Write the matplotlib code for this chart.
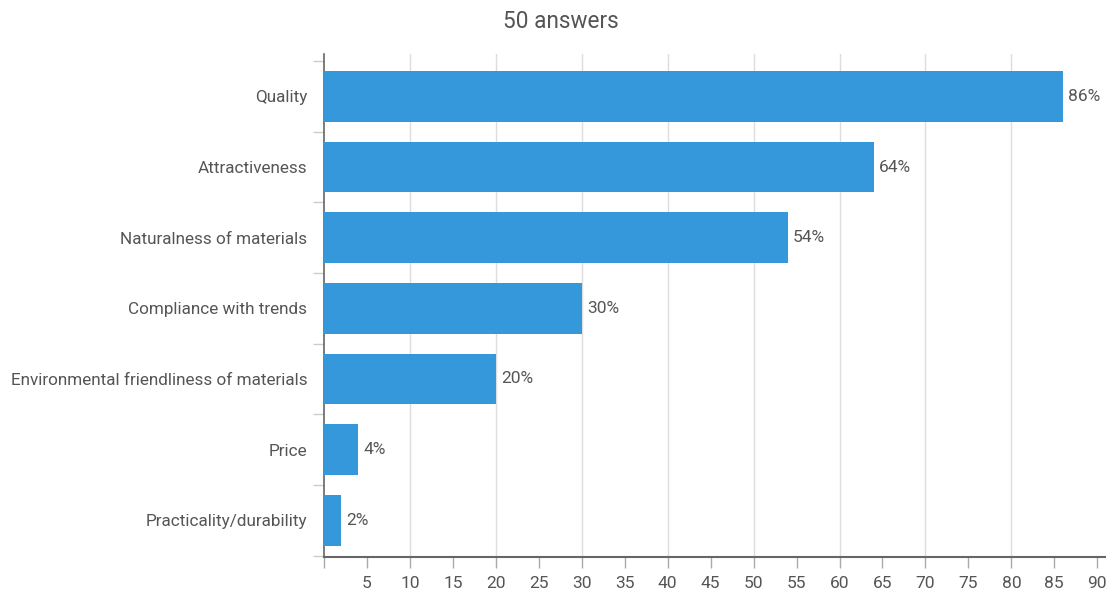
import matplotlib
matplotlib.use("Agg")
import matplotlib.pyplot as plt
import numpy as np

categories = [
    "Quality",
    "Attractiveness",
    "Naturalness of materials",
    "Compliance with trends",
    "Environmental friendliness of materials",
    "Price",
    "Practicality/durability",
]
values = [86, 64, 54, 30, 20, 4, 2]
x_ticks = list(range(5, 95, 5))
grid_at = list(range(10, 90, 10))
title = "50 answers"

bar_color = "#3598db"
text_color = "#555555"
axis_color = "#666666"

plt.rcParams["font.family"] = ["Roboto", "DejaVu Sans"]

fig = plt.figure(figsize=(11.13, 5.96), dpi=100)
ax = fig.add_axes([324 / 1113, (596 - 557) / 596, (1105 - 324) / 1113, (557 - 54) / 596])

n = len(categories)
ypos = np.arange(n)[::-1]
ax.barh(ypos, values, height=0.72, color=bar_color, zorder=3)

for y, v in zip(ypos, values):
    ax.text(v + 0.6, y, f"{v}%", va="center", ha="left", fontsize=12.5, color=text_color)

ax.set_xlim(0, 90.9)
ax.set_ylim(-0.52, 6.6)

for g in grid_at:
    ax.axvline(g, color="#dddddd", lw=1, zorder=1)

ax.set_xticks([0] + x_ticks)
ax.set_xticklabels([""] + [str(t) for t in x_ticks], fontsize=12.5, color=text_color)
ax.tick_params(axis="x", length=8, width=1, color="#aaaaaa", pad=6)

# category labels on minor ticks, boundary marks on major ticks
ax.set_yticks(np.arange(-0.5, n, 1.0))
ax.set_yticklabels([])
ax.tick_params(axis="y", which="major", length=8, width=1, color="#cccccc")
ax.set_yticks(ypos, minor=True)
ax.set_yticklabels(categories, minor=True, fontsize=12.3, color=text_color)
ax.tick_params(axis="y", which="minor", length=0, pad=12)

for side in ("top", "right"):
    ax.spines[side].set_visible(False)
ax.spines["left"].set_color(axis_color)
ax.spines["bottom"].set_color(axis_color)
ax.spines["left"].set_linewidth(1.2)
ax.spines["bottom"].set_linewidth(1.5)

fig.text(0.504, 1 - 22 / 596, title, ha="center", va="center", fontsize=16.3, color=text_color)

fig.savefig("out.png", dpi=100)
